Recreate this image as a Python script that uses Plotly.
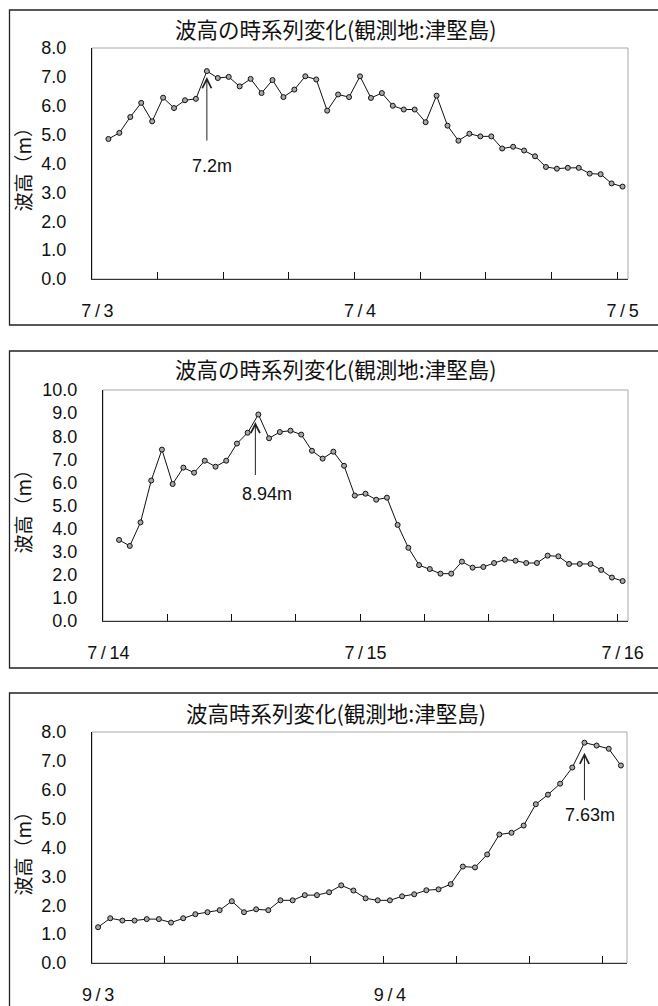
import plotly.graph_objects as go

W, H = 658, 1006

# ---------------- data ----------------
# Chart 1: 7/3 01:00 - 7/5 00:00 (hourly)
hours1 = list(range(1, 49))
wave1 = [4.85, 5.06, 5.61, 6.10, 5.46, 6.28, 5.92, 6.19, 6.24, 7.20,
         6.96, 7.00, 6.67, 6.93, 6.44, 6.89, 6.30, 6.56, 7.02, 6.91,
         5.83, 6.39, 6.30, 7.02, 6.27, 6.44, 6.00, 5.87, 5.87, 5.43,
         6.35, 5.31, 4.79, 5.03, 4.94, 4.94, 4.52, 4.58, 4.45, 4.25,
         3.88, 3.82, 3.85, 3.85, 3.65, 3.63, 3.31, 3.20]
labels1 = ["7\u2009/\u20093", "7\u2009/\u20094", "7\u2009/\u20095"]

# Chart 2: 7/14 01:00 - 7/16 00:00 (hourly)
hours2 = list(range(1, 49))
wave2 = [3.51, 3.25, 4.27, 6.08, 7.42, 5.93, 6.64, 6.42, 6.94, 6.68,
         6.94, 7.68, 8.15, 8.94, 7.91, 8.18, 8.24, 8.07, 7.37, 7.03,
         7.33, 6.72, 5.43, 5.51, 5.25, 5.34, 4.16, 3.17, 2.42, 2.25,
         2.05, 2.05, 2.57, 2.31, 2.34, 2.51, 2.66, 2.61, 2.51, 2.51,
         2.83, 2.80, 2.47, 2.47, 2.47, 2.21, 1.88, 1.73]
labels2 = ["7\u2009/\u200914", "7\u2009/\u200915", "7\u2009/\u200916"]

# Chart 3: 9/3 00:00 - 9/4 19:00 (hourly)
hours3 = list(range(0, 44))
wave3 = [1.24, 1.55, 1.47, 1.47, 1.52, 1.52, 1.40, 1.55, 1.69, 1.76,
         1.83, 2.14, 1.76, 1.86, 1.83, 2.17, 2.17, 2.35, 2.35, 2.45,
         2.69, 2.51, 2.24, 2.17, 2.17, 2.31, 2.38, 2.52, 2.55, 2.73,
         3.34, 3.31, 3.76, 4.45, 4.51, 4.76, 5.50, 5.83, 6.21, 6.77,
         7.63, 7.53, 7.42, 6.84]
labels3 = ["9\u2009/\u20093", "9\u2009/\u20094"]

titles = ["波高の時系列変化(観測地:津堅島)",
          "波高の時系列変化(観測地:津堅島)",
          "波高時系列変化(観測地:津堅島)"]
ytitle = "波高（m）"
peaks = [(10, 7.2, "7.2m"), (14, 8.94, "8.94m"), (40, 7.63, "7.63m")]
ymaxes = [8, 10, 8]

# ---------------- layout geometry (pixels) ----------------
plots = [  # left, right, top, bottom
    (92, 628, 48, 279),
    (103, 628, 390, 621),
    (92, 627, 732, 963),
]
boxes = [  # outer frames: left, right, top, bottom
    (9.5, 670, 10, 325),
    (9.5, 670, 351, 668),
    (9.5, 670, 693, 1020),
]
title_y = [28, 368, 712]
ncat = [49, 49, 44]

def px(x):
    return x / W

def py(y):
    return 1 - y / H

TICKFONT = dict(family="Liberation Sans, Arial, sans-serif", size=18, color="#111")
CJKFONT = "Noto Sans CJK JP, sans-serif"

fig = go.Figure()
series = [(hours1, wave1, labels1), (hours2, wave2, labels2), (hours3, wave3, labels3)]
annotations = []
shapes = []

for k, (hrs, vals, labs) in enumerate(series):
    i = k + 1
    xa = "x" if i == 1 else f"x{i}"
    ya = "y" if i == 1 else f"y{i}"
    fig.add_trace(go.Scatter(
        x=hrs, y=vals, mode="lines+markers", xaxis=xa, yaxis=ya,
        line=dict(color="#111", width=1),
        marker=dict(size=5, color="#a8a8a8", line=dict(color="#111", width=1)),
        showlegend=False, hoverinfo="skip"))

    l, r, t, b = plots[k]
    n = ncat[k]
    label_vals = [0, 24, 48][:len(labs)]
    minor_vals = [j - 0.5 for j in range(6, n, 6)]
    fig.update_layout(**{
        ("xaxis" if i == 1 else f"xaxis{i}"): dict(
            domain=[px(l), px(r)], anchor=ya, range=[-0.5, n - 0.5],
            tickmode="array", tickvals=label_vals, ticktext=labs, ticks="",
            showline=True, linecolor="#333", linewidth=1.3,
            showgrid=False, zeroline=False, tickfont=TICKFONT,
            ticklabelstandoff=15, fixedrange=True, automargin=False,
            minor=dict(tickmode="array", tickvals=minor_vals, ticks="inside",
                       ticklen=7, tickwidth=1, tickcolor="#111", showgrid=False)),
        ("yaxis" if i == 1 else f"yaxis{i}"): dict(
            domain=[py(b), py(t)], anchor=xa, range=[0, ymaxes[k]],
            tickmode="linear", tick0=0, dtick=1, tickformat=".1f", ticks="",
            showline=True, linecolor="#111", linewidth=1,
            showgrid=False, zeroline=False, tickfont=TICKFONT,
            ticklabelstandoff=21, fixedrange=True, automargin=False),
    })

    # plot-area frame (gray top/right)
    shapes.append(dict(type="rect", xref=f"{xa} domain", yref=f"{ya} domain",
                       x0=0, x1=1, y0=0, y1=1, layer="below",
                       line=dict(color="#a8a8a8", width=1), fillcolor="rgba(0,0,0,0)"))
    # outer chart frame
    bl, br, bt, bb = boxes[k]
    shapes.append(dict(type="rect", xref="paper", yref="paper",
                       x0=px(bl), x1=px(br), y0=py(bb), y1=py(bt),
                       line=dict(color="#222", width=1.3), fillcolor="rgba(0,0,0,0)"))

    # chart title
    annotations.append(dict(text=titles[k], xref="paper", yref="paper",
                            x=px(336), y=py(title_y[k]), xanchor="center", yanchor="middle",
                            showarrow=False, font=dict(family=CJKFONT, size=21.5, color="#111")))
    # y axis title
    annotations.append(dict(text=ytitle, xref="paper", yref="paper", textangle=-90,
                            x=px(22), y=py((t + b) / 2 + 1), xanchor="center", yanchor="middle",
                            showarrow=False, font=dict(family=CJKFONT, size=19, color="#111")))

# peak annotations: arrow + label
arrow_cfg = [  # ay, standoff, arrow xshift, text xshift, text yshift
    (71, 6, 0, 5, -95),
    (62, 7.5, -3, 9, -80),
    (59, 10, 0, 6, -72),
]
for k, (xi, val, txt) in enumerate(peaks):
    i = k + 1
    xa = "x" if i == 1 else f"x{i}"
    ya = "y" if i == 1 else f"y{i}"
    ay, so, axs, txs, tys = arrow_cfg[k]
    annotations.append(dict(x=xi, y=val, xref=xa, yref=ya, text="", showarrow=True,
                            ax=0, ay=ay, standoff=so, xshift=axs,
                            arrowhead=5, arrowsize=1.8, arrowwidth=1, arrowcolor="#222"))
    annotations.append(dict(x=xi, y=val, xref=xa, yref=ya, text=txt, showarrow=False,
                            xshift=txs, yshift=tys, xanchor="center", yanchor="middle",
                            font=TICKFONT))

fig.update_layout(width=W, height=H, autosize=False,
                  margin=dict(l=0, r=0, t=0, b=0),
                  paper_bgcolor="white", plot_bgcolor="white",
                  annotations=annotations, shapes=shapes)

fig.write_html("out.html", config={"displayModeBar": False},
               post_script="document.body.style.margin='0';document.body.style.overflow='hidden';")
